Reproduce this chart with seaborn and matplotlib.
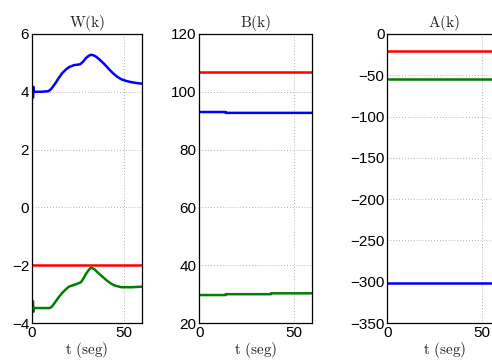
import numpy as np
import pandas as pd
import matplotlib
matplotlib.use("Agg")
import matplotlib.pyplot as plt
import seaborn as sns

# ---- data ----
t_wb = [0, 0.6, 0.8, 1.0, 1.3, 2, 5, 9, 10.5, 12.7, 14.5, 16.4, 18.3, 20.1, 22.9, 26.2, 27.8, 29.3, 30.8, 32.1, 33.5, 35, 37.2, 39.5, 41.8, 44.1, 46.4, 48.7, 51.5, 54.3, 57, 60]
w_blue = [3.78, 3.8, 4.17, 4.0, 4.0, 4.0, 4.0, 4.02, 4.1, 4.29, 4.47, 4.64, 4.76, 4.85, 4.92, 4.95, 5.04, 5.16, 5.24, 5.28, 5.26, 5.21, 5.09, 4.95, 4.79, 4.64, 4.52, 4.43, 4.37, 4.33, 4.3, 4.28]
t_wg = [0, 0.6, 0.8, 1.0, 1.3, 2, 5, 9.7, 11, 12.7, 14.5, 16.4, 18.3, 20.1, 23.8, 26.6, 28, 29.3, 30.7, 32.1, 34, 35.8, 38.1, 40.4, 42.7, 45, 48.7, 54, 60]
w_green = [-3.22, -3.25, -3.61, -3.48, -3.48, -3.48, -3.48, -3.48, -3.42, -3.27, -3.11, -2.96, -2.84, -2.74, -2.66, -2.59, -2.46, -2.31, -2.18, -2.08, -2.14, -2.25, -2.38, -2.51, -2.62, -2.7, -2.76, -2.76, -2.74]
t_wr = [0, 60]
w_red = [-2.0, -2.0]

t_b = [0, 14, 14.01, 38, 38.01, 60]
b_red = [107, 107, 107, 107, 107, 107]
b_blue = [93.0, 93.0, 92.7, 92.7, 92.7, 92.7]
b_green = [29.7, 29.7, 30.0, 30.0, 30.3, 30.3]

t_a = [0, 60]
a_red = [-21, -21]
a_green = [-55, -55]
a_blue = [-302, -302]

titles = ["W(k)", "B(k)", "A(k)"]
xlabel = "t (seg)"

sns.set_style("white")
plt.rcParams['font.family'] = ['Liberation Sans', 'DejaVu Sans']
plt.rcParams['mathtext.fontset'] = 'cm'

fig = plt.figure(figsize=(4.92, 3.61), dpi=100)
positions = [
    [0.065, 0.105, 0.224, 0.801],
    [0.405, 0.105, 0.230, 0.801],
    [0.787, 0.105, 0.232, 0.801],
]
axes = [fig.add_axes(p) for p in positions]

colors = {"red": "#ff0000", "blue": "#0000ff", "green": "#008000"}

def draw(ax, series, ylim, yticks):
    for name, t, vals in series:
        df = pd.DataFrame({"t": t, "v": vals})
        sns.lineplot(data=df, x="t", y="v", ax=ax, color=colors[name], linewidth=1.8, sort=False)
    ax.set_xlim(0, 60)
    ax.set_ylim(*ylim)
    ax.set_xticks([0, 50])
    ax.set_yticks(yticks)
    ax.grid(True, linestyle=(0, (1, 2.5)), color="#999999", linewidth=0.6)
    ax.tick_params(direction="in", length=3, labelsize=11, pad=2, colors="black")
    for s in ax.spines.values():
        s.set_color("black")
        s.set_linewidth(0.9)
    ax.set_ylabel("")

draw(axes[0], [("red", t_wr, w_red), ("blue", t_wb, w_blue), ("green", t_wg, w_green)], (-4, 6), [-4, -2, 0, 2, 4, 6])
draw(axes[1], [("red", t_b, b_red), ("blue", t_b, b_blue), ("green", t_b, b_green)], (20, 120), [20, 40, 60, 80, 100, 120])
draw(axes[2], [("red", t_a, a_red), ("green", t_a, a_green), ("blue", t_a, a_blue)], (-350, 0), [-350, -300, -250, -200, -150, -100, -50, 0])

for ax, ttl in zip(axes, titles):
    ax.set_title(r"$\mathrm{" + ttl + "}$", fontsize=11, pad=5)
    ax.set_xlabel(r"$\mathrm{t\ (seg)}$", fontsize=11, labelpad=0)

fig.savefig("out.png", dpi=100)
